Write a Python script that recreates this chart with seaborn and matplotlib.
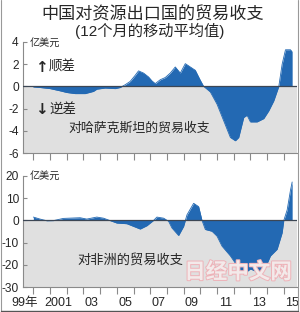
import matplotlib
matplotlib.use("Agg")
import matplotlib.pyplot as plt
import matplotlib.patheffects as pe
from matplotlib.lines import Line2D
import seaborn as sns
import pandas as pd

# ---- data ----
kz_year = [2000.0, 2000.4, 2001.0, 2001.6, 2002.0, 2002.5, 2003.1, 2003.6, 2003.8, 2004.3,
           2004.9, 2005.2, 2005.5, 2005.8, 2006.1, 2006.3, 2006.6, 2006.9, 2007.1, 2007.3,
           2007.6, 2007.9, 2008.2, 2008.5, 2008.8, 2009.1, 2009.4, 2009.7, 2010.0, 2010.2,
           2010.6, 2011.0, 2011.4, 2011.8, 2012.1, 2012.3, 2012.6, 2012.8, 2013.0, 2013.4,
           2013.8, 2014.1, 2014.4, 2014.7, 2014.9, 2015.1, 2015.4, 2015.5]
kz_value = [-0.05, -0.1, -0.2, -0.4, -0.55, -0.65, -0.65, -0.45, -0.25, -0.15,
            -0.2, -0.1, 0.15, 0.45, 1.0, 1.4, 1.2, 0.85, 0.5, 0.25,
            0.6, 0.8, 1.2, 1.75, 1.2, 2.05, 1.75, 1.45, 0.55, 0.0,
            -0.5, -1.6, -3.1, -4.6, -4.9, -4.6, -2.8, -2.6, -3.2, -3.2,
            -2.9, -2.2, -1.3, 0.0, 2.0, 3.3, 3.3, 3.1]

af_year = [2000.0, 2000.4, 2000.8, 2001.2, 2001.8, 2002.8, 2003.2, 2003.8, 2004.2, 2004.6,
           2005.0, 2005.6, 2006.4, 2006.8, 2007.0, 2007.2, 2007.4, 2007.8, 2008.1, 2008.3,
           2008.7, 2009.0, 2009.2, 2009.6, 2009.9, 2010.1, 2010.3, 2010.7, 2011.0, 2011.3,
           2011.8, 2012.2, 2012.6, 2013.0, 2013.4, 2013.9, 2014.2, 2014.6, 2014.9, 2015.0,
           2015.2, 2015.4, 2015.5]
af_value = [1.5, 0.6, -0.15, -0.1, 0.9, 1.2, 0.6, 1.5, 1.0, -0.1,
            -1.2, -1.5, -3.9, -2.4, -1.2, 0.0, 1.5, 1.0, -0.4, -3.4,
            -6.8, -2.7, 2.5, 7.7, 6.2, 0.0, -4.1, -4.9, -7.1, -11.6,
            -16.0, -20.4, -24.1, -21.9, -23.1, -21.2, -16.0, -13.0, -5.6, 0.0,
            4.7, 13.6, 17.3]

top_yticks = [4, 2, 0, -2, -4, -6]
bot_yticks = [20, 10, 0, -10, -20, -30]
year_ticks = list(range(2000, 2016))
xlabel_pos = [1999.5, 2001.5, 2003.5, 2005.5, 2007.5, 2009.5, 2011.5, 2013.5, 2015.5]
xlabel_txt = ['99年', '2001', '03', '05', '07', '09', '11', '13', '15']

title1 = '中国对资源出口国的贸易收支'
title2 = '(12个月的移动平均值)'
unit = '亿美元'
kz_label = '对哈萨克斯坦的贸易收支'
af_label = '对非洲的贸易收支'

# ---- style ----
sns.set_style("white")
plt.rcParams['font.family'] = ['Liberation Sans', 'Noto Sans CJK SC', 'DejaVu Sans']

BLUE = '#2369b3'
GRAY = '#e0e0e0'
SPINE = '#8a8a8a'

fig = plt.figure(figsize=(3.0, 3.12), dpi=100)
W, H = 300.0, 312.0

def fx(px):
    return px / W

def fy(py):
    return 1 - py / H

ax1 = fig.add_axes([fx(23), fy(153), fx(297) - fx(23), (153 - 42) / H])
ax2 = fig.add_axes([fx(23), fy(287), fx(297) - fx(23), (287 - 176) / H])

XL = (1999.38, 2015.79)

def setup(ax, yr, yt, df):
    ax.set_xlim(*XL)
    ax.set_ylim(*yr)
    ax.axhspan(yr[0], 0, color=GRAY, zorder=0, lw=0)
    ax.fill_between(df['year'], 0, df['value'], color=BLUE, lw=0, zorder=2)
    sns.lineplot(data=df, x='year', y='value', ax=ax, color=BLUE, lw=0.6, zorder=3)
    ax.axhline(0, color='#3c4654', lw=0.9, zorder=4)
    ax.set_xlabel('')
    ax.set_ylabel('')
    ax.set_yticks(yt)
    ax.set_yticklabels([str(v) for v in yt])
    ax.tick_params(axis='y', direction='in', length=3, width=0.8, color=SPINE,
                   labelsize=8.6, pad=3, left=True)
    ax.set_xticks(year_ticks)
    ax.set_xticklabels([])
    ax.tick_params(axis='x', which='major', direction='out', length=5, width=0.8,
                   color=SPINE, bottom=True)
    for s in ['top', 'right']:
        ax.spines[s].set_visible(False)
    for s in ['left', 'bottom']:
        ax.spines[s].set_color(SPINE)
        ax.spines[s].set_linewidth(0.8)

kz_df = pd.DataFrame({'year': kz_year, 'value': kz_value})
af_df = pd.DataFrame({'year': af_year, 'value': af_value})
setup(ax1, (-6, 4), top_yticks, kz_df)
setup(ax2, (-30, 20), bot_yticks, af_df)

ax2.set_xticks(xlabel_pos, minor=True)
ax2.set_xticklabels(xlabel_txt, minor=True)
ax2.tick_params(axis='x', which='minor', length=0, labelsize=9, pad=7)

cjk = ['Noto Sans CJK SC', 'DejaVu Sans']
fig.text(0.51, fy(14), title1, ha='center', va='center', fontsize=12.3, family=cjk)
fig.text(0.5, fy(31), title2, ha='center', va='center', fontsize=11, family=['Liberation Sans', 'Noto Sans CJK SC'])
fig.text(fx(30), fy(43), unit, ha='left', va='center', fontsize=7.3, family=cjk)
fig.text(fx(30), fy(176), unit, ha='left', va='center', fontsize=7.3, family=cjk)
fig.text(fx(68), fy(128), kz_label, ha='left', va='center', fontsize=9.3, family=cjk)
fig.text(fx(77), fy(260), af_label, ha='left', va='center', fontsize=9.5, family=cjk)

fig.text(fx(41), fy(67), '↑', ha='center', va='center', fontsize=11, fontweight='bold', family=['DejaVu Sans'])
fig.text(fx(49), fy(67), '顺差', ha='left', va='center', fontsize=9.7, family=cjk)
fig.text(fx(41), fy(109), '↓', ha='center', va='center', fontsize=11, fontweight='bold', family=['DejaVu Sans'])
fig.text(fx(49), fy(109), '逆差', ha='left', va='center', fontsize=9.7, family=cjk)

wm = fig.text(fx(238), fy(272), '日经中文网', ha='center', va='center', fontsize=15.5,
              fontweight='bold', family=cjk, color='#f3eaea', zorder=10)
wm.set_path_effects([pe.withStroke(linewidth=1.4, foreground='#eeb2b8')])

# outer frame lines
fig.add_artist(Line2D([fx(0.5), fx(0.5)], [fy(311), 1], color='#999999', lw=0.8))
fig.add_artist(Line2D([fx(298), fx(298)], [fy(311), 1], color='#999999', lw=0.8))
fig.add_artist(Line2D([fx(0.5), fx(298)], [fy(310.5), fy(310.5)], color='#555555', lw=1.0))

fig.savefig('out.png', dpi=100)
